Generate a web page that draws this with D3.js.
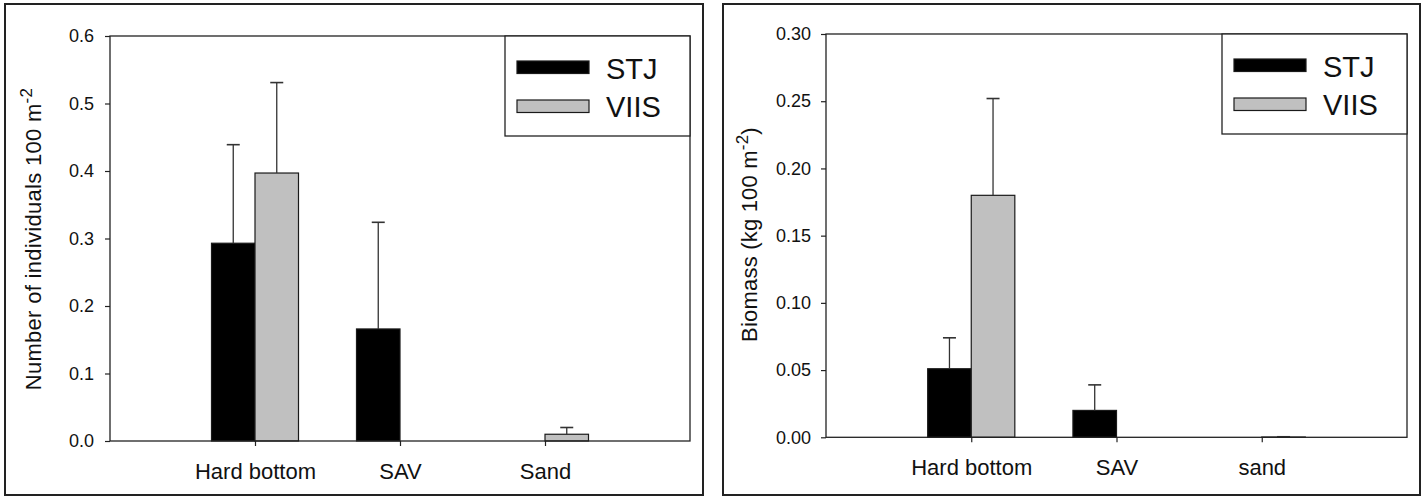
<!DOCTYPE html>
<html><head><meta charset="utf-8">
<script src="https://cdn.jsdelivr.net/npm/d3@7"></script>
<style>
body{margin:0;background:#fff}
svg{display:block}
text{font-family:"Liberation Sans",Arial,sans-serif;fill:#111}
</style>
</head><body>
<svg id="c" width="1424" height="498"></svg>
<script>
// ---------- data ----------
const seriesNames = ["STJ", "VIIS"];

const densityCategories = ["Hard bottom", "SAV", "Sand"];
const stjDensity   = [0.293, 0.166, 0];
const stjDensitySE = [0.146, 0.158, 0];
const viisDensity   = [0.397, 0, 0.010];
const viisDensitySE = [0.134, 0, 0.010];
const densityTicks = [0, 0.1, 0.2, 0.3, 0.4, 0.5, 0.6];

const biomassCategories = ["Hard bottom", "SAV", "sand"];
const stjBiomass   = [0.051, 0.020, 0];
const stjBiomassSE = [0.023, 0.019, 0];
const viisBiomass   = [0.180, 0, 0.0002];
const viisBiomassSE = [0.072, 0, 0.0002];
const biomassTicks = [0, 0.05, 0.10, 0.15, 0.20, 0.25, 0.30];

// ---------- drawing ----------
const svg = d3.select("#c");
const colors = {STJ: "#000000", VIIS: "#c0c0c0"};

function panel(cfg) {
  const g = svg.append("g");
  // outer border
  g.append("rect").attr("x", cfg.box[0]).attr("y", cfg.box[1])
    .attr("width", cfg.box[2] - cfg.box[0]).attr("height", cfg.box[3] - cfg.box[1])
    .attr("fill", "none").attr("stroke", "#222").attr("stroke-width", 2);

  const x = d3.scaleLinear().domain([0, 4]).range([cfg.L, cfg.R]);
  const y = d3.scaleLinear().domain([0, cfg.ticks[cfg.ticks.length - 1]]).range([cfg.B, cfg.T]);
  const bw = x(1.3) - x(1);

  // y axis
  const ya = g.append("g").attr("transform", `translate(${cfg.L},0)`)
    .call(d3.axisLeft(y).tickValues(cfg.ticks).tickFormat(d3.format(cfg.fmt))
      .tickSize(5).tickSizeOuter(0).tickPadding(cfg.ypad));
  ya.select(".domain").remove();
  ya.selectAll(".tick line").attr("stroke", "#222").attr("stroke-width", 1.2);
  ya.selectAll(".tick text").attr("font-size", 18).attr("font-family", '"Liberation Sans",Arial,sans-serif').attr("fill", "#111");

  // x axis
  const xa = g.append("g").attr("transform", `translate(0,${cfg.B})`)
    .call(d3.axisBottom(x).tickValues([1, 2, 3]).tickFormat(i => cfg.cats[i - 1])
      .tickSize(5).tickSizeOuter(0).tickPadding(17.5));
  xa.select(".domain").remove();
  xa.selectAll(".tick line").attr("stroke", "#222").attr("stroke-width", 1.2);
  xa.selectAll(".tick text").attr("font-size", 22).attr("font-family", '"Liberation Sans",Arial,sans-serif').attr("fill", "#111");

  // bars
  const series = [
    {name: "STJ", vals: cfg.stj, se: cfg.stjSE, off: -1},
    {name: "VIIS", vals: cfg.viis, se: cfg.viisSE, off: 0}
  ];
  series.forEach(s => {
    s.vals.forEach((v, i) => {
      const x0 = x(i + 1) + s.off * bw;
      if (v > 0) {
        g.append("rect").attr("x", x0).attr("y", y(v))
          .attr("width", bw).attr("height", y(0) - y(v))
          .attr("fill", colors[s.name]).attr("stroke", "#1a1a1a").attr("stroke-width", 1.2);
      }
      if (s.se[i] > 0) {
        const cx = x0 + bw / 2;
        g.append("line").attr("x1", cx).attr("x2", cx).attr("y1", y(v)).attr("y2", y(v + s.se[i]))
          .attr("stroke", "#333").attr("stroke-width", 1.3);
        g.append("line").attr("x1", cx - 6.5).attr("x2", cx + 6.5)
          .attr("y1", y(v + s.se[i])).attr("y2", y(v + s.se[i]))
          .attr("stroke", "#333").attr("stroke-width", 1.6);
      }
    });
  });

  // plot frame
  g.append("rect").attr("x", cfg.L).attr("y", cfg.T)
    .attr("width", cfg.R - cfg.L).attr("height", cfg.B - cfg.T)
    .attr("fill", "none").attr("stroke", "#222").attr("stroke-width", 1.3);

  // y title
  const t = g.append("text").attr("transform", `translate(${cfg.titleX},${cfg.titleY}) rotate(-90)`)
    .attr("text-anchor", "middle").attr("font-size", 22).attr("letter-spacing", cfg.ls);
  cfg.title(t);

  // legend
  const lx = cfg.R - 185, ly = cfg.T;
  g.append("rect").attr("x", lx).attr("y", ly).attr("width", 185).attr("height", 100)
    .attr("fill", "#fff").attr("stroke", "#222").attr("stroke-width", 1.3);
  seriesNames.forEach((n, k) => {
    const sy = ly + (k === 0 ? 25 : 64);
    g.append("rect").attr("x", lx + 12).attr("y", sy).attr("width", 72).attr("height", 12.5)
      .attr("fill", colors[n]).attr("stroke", "#1a1a1a").attr("stroke-width", 1.2);
    g.append("text").attr("x", lx + 101).attr("y", ly + (k === 0 ? 43 : 81))
      .attr("font-size", 29).text(n);
  });
}

panel({
  box: [5, 4, 703, 495], L: 110, R: 690, T: 36, B: 441,
  cats: densityCategories, ticks: densityTicks, fmt: ".1f", ypad: 11,
  stj: stjDensity, stjSE: stjDensitySE, viis: viisDensity, viisSE: viisDensitySE,
  titleX: 41, titleY: 239, ls: 0.3,
  title: t => {
    t.append("tspan").text("Number of individuals 100 m");
    t.append("tspan").attr("dy", -9).attr("font-size", 17).text("-2");
  }
});

panel({
  box: [723, 4, 1420, 495], L: 826, R: 1407, T: 34, B: 437.3,
  cats: biomassCategories, ticks: biomassTicks, fmt: ".2f", ypad: 10,
  stj: stjBiomass, stjSE: stjBiomassSE, viis: viisBiomass, viisSE: viisBiomassSE,
  titleX: 757, titleY: 234.5, ls: 0.2,
  title: t => {
    t.append("tspan").text("Biomass (kg 100 m");
    t.append("tspan").attr("dy", -9).attr("font-size", 17).text("-2");
    t.append("tspan").attr("dy", 9).text(")");
  }
});
</script>
</body></html>
